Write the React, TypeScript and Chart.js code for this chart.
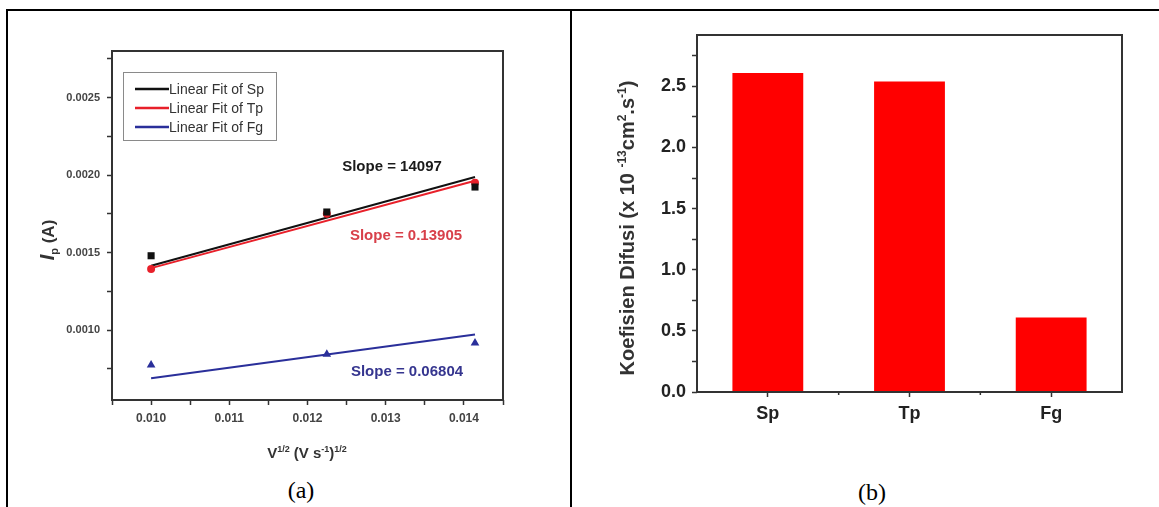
import React, { useEffect, useRef } from 'react';
import { Chart, registerables } from 'chart.js';
Chart.register(...registerables);

const FONT = 'Arial, "Liberation Sans", Helvetica, sans-serif';

// ---------- Panel (a) data ----------
const scanX = [0.01, 0.012247, 0.014142];
const spPeak = [0.00148, 0.001762, 0.001923];
const tpPeak = [0.001395, 0.00175, 0.00195];
const fgPeak = [0.000775, 0.000845, 0.000918];
const fitX = [0.01, 0.014142];
const spFit = [0.001415, 0.001988];
const tpFit = [0.0014, 0.001963];
const fgFit = [0.00069, 0.000972];
const legendLabels = ['Linear Fit of Sp', 'Linear Fit of Tp', 'Linear Fit of Fg'];
const slopeLabels = ['Slope = 14097', 'Slope = 0.13905', 'Slope = 0.06804'];
const xTickValsA = [0.0095, 0.01, 0.0105, 0.011, 0.0115, 0.012, 0.0125, 0.013, 0.0135, 0.014, 0.0145];
const xTickLabelsA = ['', '0.010', '', '0.011', '', '0.012', '', '0.013', '', '0.014', ''];
const yTickValsA = [0.00075, 0.001, 0.00125, 0.0015, 0.00175, 0.002, 0.00225, 0.0025, 0.00275];
const yTickLabelsA = ['', '0.0010', '', '0.0015', '', '0.0020', '', '0.0025', ''];

// ---------- Panel (b) data ----------
const categoriesB = ['Sp', 'Tp', 'Fg'];
const diffusion = [2.61, 2.54, 0.61];
const yTickValsB = [0, 0.25, 0.5, 0.75, 1, 1.25, 1.5, 1.75, 2, 2.25, 2.5, 2.75];
const yTickLabelsB = ['0.0', '', '0.5', '', '1.0', '', '1.5', '', '2.0', '', '2.5', ''];

type Seg = { t: string; sup?: boolean; sub?: boolean; italic?: boolean; size?: number };

function drawRich(
  ctx: CanvasRenderingContext2D,
  segs: Seg[],
  cx: number,
  cy: number,
  base: number,
  small: number,
  color: string,
  rotate: boolean
) {
  ctx.save();
  ctx.translate(cx, cy);
  if (rotate) ctx.rotate(-Math.PI / 2);
  ctx.fillStyle = color;
  ctx.textBaseline = 'alphabetic';
  ctx.textAlign = 'left';
  const fontFor = (s: Seg) =>
    `${s.italic ? 'italic ' : ''}bold ${s.sup || s.sub ? small : s.size || base}px ${FONT}`;
  let total = 0;
  const widths = segs.map((s) => {
    ctx.font = fontFor(s);
    const w = ctx.measureText(s.t).width;
    total += w;
    return w;
  });
  let x = -total / 2;
  const baseY = base * 0.36;
  segs.forEach((s, i) => {
    ctx.font = fontFor(s);
    let y = baseY;
    if (s.sup) y -= base * 0.42;
    if (s.sub) y += base * 0.22;
    ctx.fillText(s.t, x, y);
    x += widths[i];
  });
  ctx.restore();
}

const frameColor = '#333';

const panelAPlugin = {
  id: 'panelA',
  afterDraw(chart: any) {
    const ctx: CanvasRenderingContext2D = chart.ctx;
    const { left, top, right, bottom } = chart.chartArea;
    ctx.save();
    ctx.strokeStyle = frameColor;
    ctx.lineWidth = 2;
    ctx.strokeRect(left, top, right - left, bottom - top);

    // legend box
    ctx.strokeStyle = '#8a8a8a';
    ctx.lineWidth = 1;
    ctx.strokeRect(123.5, 72.5, 153, 68);
    const lcol = ['#111', '#e8202a', '#2a2f9a'];
    legendLabels.forEach((lab, i) => {
      const y = 89 + i * 19;
      ctx.strokeStyle = lcol[i];
      ctx.lineWidth = 2.5;
      ctx.beginPath();
      ctx.moveTo(135, y);
      ctx.lineTo(169, y);
      ctx.stroke();
      ctx.fillStyle = '#333';
      ctx.font = `14px ${FONT}`;
      ctx.textBaseline = 'middle';
      ctx.textAlign = 'left';
      ctx.fillText(lab, 169, y + 1);
    });

    // slope annotations
    const spos = [
      [392, 167, '#1a1a1a'],
      [406, 236, '#d8404a'],
      [407, 372, '#35358f'],
    ];
    slopeLabels.forEach((s, i) => {
      ctx.font = `bold 15px ${FONT}`;
      ctx.fillStyle = spos[i][2] as string;
      ctx.textAlign = 'center';
      ctx.textBaseline = 'middle';
      ctx.fillText(s, spos[i][0] as number, spos[i][1] as number);
    });
    ctx.restore();

    drawRich(
      ctx,
      [{ t: 'I', italic: true, size: 20 }, { t: 'p', sub: true }, { t: ' (A)' }],
      48,
      240,
      17,
      11,
      '#333',
      true
    );
    drawRich(
      ctx,
      [
        { t: 'V' },
        { t: '1/2', sup: true },
        { t: ' (V s' },
        { t: '-1', sup: true },
        { t: ')' },
        { t: '1/2', sup: true },
      ],
      307,
      453,
      15,
      9,
      '#333',
      false
    );
  },
};

const panelBPlugin = {
  id: 'panelB',
  afterDraw(chart: any) {
    const ctx: CanvasRenderingContext2D = chart.ctx;
    const { left, top, right, bottom } = chart.chartArea;
    ctx.save();
    ctx.strokeStyle = frameColor;
    ctx.lineWidth = 2;
    ctx.strokeRect(left, top, right - left, bottom - top);
    // minor ticks between categories
    const xs = chart.scales.x;
    ctx.lineWidth = 1.5;
    [0.5, 1.5].forEach((v) => {
      const px = xs.getPixelForValue(v);
      ctx.beginPath();
      ctx.moveTo(px, bottom);
      ctx.lineTo(px, bottom + 3);
      ctx.stroke();
    });
    ctx.restore();
    drawRich(
      ctx,
      [
        { t: 'Koefisien Difusi (x 10 ' },
        { t: '-13', sup: true },
        { t: 'cm' },
        { t: '2', sup: true },
        { t: '.s' },
        { t: '-1', sup: true },
        { t: ')' },
      ],
      55,
      228,
      20,
      12,
      '#333',
      true
    );
  },
};

const tickGrid = {
  display: true,
  drawOnChartArea: false,
  drawTicks: true,
  tickLength: 5,
  tickColor: '#333',
  tickWidth: 1.5,
};

export default function App() {
  const refA = useRef<HTMLCanvasElement>(null);
  const refB = useRef<HTMLCanvasElement>(null);

  useEffect(() => {
    const pts = (ys: number[]) => scanX.map((x, i) => ({ x, y: ys[i] }));
    const fit = (ys: number[]) => fitX.map((x, i) => ({ x, y: ys[i] }));
    const chartA = new Chart(refA.current as HTMLCanvasElement, {
      type: 'scatter',
      data: {
        datasets: [
          { label: 'Sp', data: pts(spPeak), pointStyle: 'rect', pointRadius: 5, backgroundColor: '#111', borderColor: '#111', borderWidth: 0, order: 0 },
          { label: 'Tp', data: pts(tpPeak), pointStyle: 'circle', pointRadius: 4, backgroundColor: '#e8202a', borderColor: '#e8202a', borderWidth: 0, order: 0 },
          { label: 'Fg', data: pts(fgPeak), pointStyle: 'triangle', pointRadius: 5, backgroundColor: '#2a2f9a', borderColor: '#2a2f9a', borderWidth: 0, order: 0 },
          { label: legendLabels[0], data: fit(spFit), showLine: true, pointRadius: 0, borderColor: '#111', borderWidth: 2, order: 1 },
          { label: legendLabels[1], data: fit(tpFit), showLine: true, pointRadius: 0, borderColor: '#e8202a', borderWidth: 2, order: 1 },
          { label: legendLabels[2], data: fit(fgFit), showLine: true, pointRadius: 0, borderColor: '#2a2f9a', borderWidth: 2, order: 1 },
        ] as any,
      },
      options: {
        animation: false,
        responsive: false,
        devicePixelRatio: 1,
        layout: { padding: { left: 0, top: 51, right: 68, bottom: 0 } },
        plugins: { legend: { display: false }, tooltip: { enabled: false } },
        scales: {
          x: {
            type: 'linear',
            min: 0.0095,
            max: 0.0145,
            border: { display: false },
            grid: tickGrid as any,
            afterBuildTicks: (s: any) => {
              s.ticks = xTickValsA.map((v) => ({ value: v }));
            },
            afterFit: (s: any) => {
              s.height = 70;
            },
            ticks: {
              autoSkip: false,
              maxRotation: 0,
              padding: 6,
              color: '#444',
              font: { family: FONT, size: 12, weight: 'bold' },
              callback: (_v: any, i: number) => xTickLabelsA[i],
            },
          },
          y: {
            type: 'linear',
            min: 0.00055,
            max: 0.0028,
            border: { display: false },
            grid: tickGrid as any,
            afterBuildTicks: (s: any) => {
              s.ticks = yTickValsA.map((v) => ({ value: v }));
            },
            afterFit: (s: any) => {
              s.width = 112;
            },
            ticks: {
              autoSkip: false,
              padding: 7,
              color: '#444',
              font: { family: FONT, size: 11, weight: 'bold' },
              callback: (_v: any, i: number) => yTickLabelsA[i],
            },
          },
        },
      },
      plugins: [panelAPlugin],
    });

    const chartB = new Chart(refB.current as HTMLCanvasElement, {
      type: 'bar',
      data: {
        labels: categoriesB,
        datasets: [
          {
            label: 'Koefisien Difusi',
            data: diffusion,
            backgroundColor: '#ff0000',
            borderWidth: 0,
            barPercentage: 0.5,
            categoryPercentage: 1,
          },
        ],
      },
      options: {
        animation: false,
        responsive: false,
        devicePixelRatio: 1,
        layout: { padding: { left: 0, top: 35, right: 37, bottom: 0 } },
        plugins: { legend: { display: false }, tooltip: { enabled: false } },
        scales: {
          x: {
            type: 'category',
            offset: true,
            border: { display: false },
            grid: { ...tickGrid, offset: false } as any,
            afterFit: (s: any) => {
              s.height = 78;
            },
            ticks: {
              padding: 6,
              color: '#222',
              font: { family: FONT, size: 18, weight: 'bold' },
            },
          },
          y: {
            type: 'linear',
            min: 0,
            max: 2.92,
            border: { display: false },
            grid: tickGrid as any,
            afterBuildTicks: (s: any) => {
              s.ticks = yTickValsB.map((v) => ({ value: v }));
            },
            afterFit: (s: any) => {
              s.width = 125;
            },
            ticks: {
              autoSkip: false,
              padding: 6,
              color: '#222',
              font: { family: FONT, size: 18, weight: 'bold' },
              callback: (_v: any, i: number) => yTickLabelsB[i],
            },
          },
        },
      },
      plugins: [panelBPlugin],
    });

    return () => {
      chartA.destroy();
      chartB.destroy();
    };
  }, []);

  const captionStyle: React.CSSProperties = {
    position: 'absolute',
    width: 100,
    textAlign: 'center',
    fontFamily: '"Times New Roman", "Liberation Serif", serif',
    fontSize: 24,
    lineHeight: '28px',
    color: '#000',
  };

  return (
    <div
      style={{
        position: 'absolute',
        left: 0,
        top: 0,
        width: 1159,
        height: 507,
        background: '#fff',
        overflow: 'hidden',
      }}
    >
      <canvas ref={refA} width={571} height={470} style={{ position: 'absolute', left: 0, top: 0, width: 571, height: 470 }} />
      <canvas ref={refB} width={587} height={470} style={{ position: 'absolute', left: 572, top: 0, width: 587, height: 470 }} />
      <div style={{ position: 'absolute', left: 6, top: 9, width: 2, height: 498, background: '#000' }} />
      <div style={{ position: 'absolute', left: 6, top: 9, width: 1153, height: 2, background: '#000' }} />
      <div style={{ position: 'absolute', left: 570, top: 9, width: 2, height: 498, background: '#000' }} />
      <div style={{ ...captionStyle, left: 251, top: 476 }}>(a)</div>
      <div style={{ ...captionStyle, left: 822, top: 478 }}>(b)</div>
    </div>
  );
}
